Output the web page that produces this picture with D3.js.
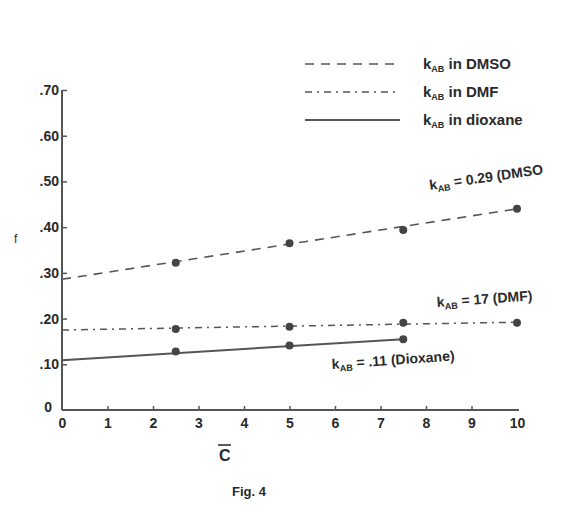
<!DOCTYPE html>
<html>
<head>
<meta charset="utf-8">
<script src="https://cdn.jsdelivr.net/npm/d3@7"></script>
<style>
  body { margin: 0; background: #fff; }
  svg text { font-family: "Liberation Sans", Arial, sans-serif; fill: #2a2a2a; }
</style>
</head>
<body>
<svg id="chart" width="569" height="508"></svg>
<script>
// data
const xTicks = [0, 1, 2, 3, 4, 5, 6, 7, 8, 9, 10];
const yTicks = [0, 0.1, 0.2, 0.3, 0.4, 0.5, 0.6, 0.7];
const yTickLabels = ["0", ".10", ".20", ".30", ".40", ".50", ".60", ".70"];

const dmsoX = [2.5, 5, 7.5, 10];
const dmsoY = [0.322, 0.365, 0.394, 0.44];
const dmsoLine = [[0, 0.286], [10, 0.44]];

const dmfX = [2.5, 5, 7.5, 10];
const dmfY = [0.177, 0.182, 0.191, 0.191];
const dmfLine = [[0, 0.175], [10, 0.192]];

const dioxX = [2.5, 5, 7.5];
const dioxY = [0.128, 0.141, 0.155];
const dioxLine = [[0, 0.109], [7.5, 0.155]];

const svg = d3.select("#chart");
const x = d3.scaleLinear().domain([0, 10]).range([62, 517]);
const y = d3.scaleLinear().domain([0, 0.7]).range([410, 90]);
const ink = "#555";

// axes
const xAxis = svg.append("g").attr("transform", `translate(0,${y(0)})`)
  .call(d3.axisBottom(x).tickValues(xTicks).tickSize(-4).tickPadding(8).tickFormat(d3.format("d")));
const yAxis = svg.append("g").attr("transform", `translate(${x(0)},0)`)
  .call(d3.axisLeft(y).tickValues(yTicks).tickSize(-5).tickPadding(3).tickFormat((d, i) => yTickLabels[i]));
[xAxis, yAxis].forEach(a => {
  a.select(".domain").attr("stroke", ink).attr("stroke-width", 2);
  a.selectAll(".tick line").attr("stroke", ink).attr("stroke-width", 1.5);
  a.selectAll(".tick text").attr("font-size", 14).attr("fill", "#2a2a2a").attr("font-weight", 600);
});
yAxis.select(".domain").attr("d", `M0,${y(0.7)}V${y(0)}`);
xAxis.select(".domain").attr("d", `M${x(0)},0H${x(10) + 2}`);
yAxis.selectAll(".tick").filter(d => d === 0).select("text").attr("dy", "0.1em").attr("x", -10);
yAxis.selectAll(".tick").filter(d => d === 0).select("line").remove();
xAxis.selectAll(".tick").filter(d => d === 0 || d === 10).select("line").remove();

// lines
const line = d3.line().x(d => x(d[0])).y(d => y(d[1]));
svg.append("path").attr("d", line(dmsoLine)).attr("fill", "none")
  .attr("stroke", ink).attr("stroke-width", 1.6).attr("stroke-dasharray", "9,7");
svg.append("path").attr("d", line(dmfLine)).attr("fill", "none")
  .attr("stroke", ink).attr("stroke-width", 1.5).attr("stroke-dasharray", "7,5,2,5");
svg.append("path").attr("d", line(dioxLine)).attr("fill", "none")
  .attr("stroke", ink).attr("stroke-width", 2);

// points
function dots(xs, ys) {
  svg.append("g").selectAll("circle").data(xs).join("circle")
    .attr("cx", d => x(d)).attr("cy", (d, i) => y(ys[i])).attr("r", 4).attr("fill", "#444");
}
dots(dmsoX, dmsoY);
dots(dmfX, dmfY);
dots(dioxX, dioxY);

// legend
const legendNames = ["DMSO", "DMF", "dioxane"];
const legendDash = ["9,7", "7,5,2,5", null];
const leg = svg.append("g");
legendNames.forEach((n, i) => {
  const yy = 64 + i * 28;
  leg.append("line").attr("x1", 305).attr("x2", 400).attr("y1", yy).attr("y2", yy)
    .attr("stroke", ink).attr("stroke-width", i === 2 ? 2 : 1.5)
    .attr("stroke-dasharray", legendDash[i]);
  const t = leg.append("text").attr("x", 423).attr("y", yy + 5).attr("font-size", 15).attr("font-weight", 600);
  t.append("tspan").text("k");
  t.append("tspan").text("AB").attr("font-size", 9).attr("dy", 3);
  t.append("tspan").text(" in " + n).attr("dy", -3);
});

// annotations
function kLabel(tx, ty, rot, rest) {
  const t = svg.append("text").attr("transform", `translate(${tx},${ty}) rotate(${rot})`)
    .attr("font-size", 14).attr("font-weight", 600);
  t.append("tspan").text("k");
  t.append("tspan").text("AB").attr("font-size", 9).attr("dy", 3);
  t.append("tspan").text(rest).attr("dy", -3);
}
kLabel(430, 190, -8, " = 0.29 (DMSO");
kLabel(437, 307, -4, " = 17 (DMF)");
kLabel(332, 369, -4, " = .11 (Dioxane)");

// axis titles
svg.append("text").attr("x", 14).attr("y", 243).attr("font-size", 12).text("f");
svg.append("text").attr("x", 219).attr("y", 461).attr("font-size", 16).attr("font-weight", 600).text("C");
svg.append("line").attr("x1", 218).attr("x2", 231).attr("y1", 445).attr("y2", 445)
  .attr("stroke", "#333").attr("stroke-width", 1.6);
svg.append("text").attr("x", 232).attr("y", 496).attr("font-size", 13).attr("font-weight", 600).text("Fig. 4");
</script>
</body>
</html>
